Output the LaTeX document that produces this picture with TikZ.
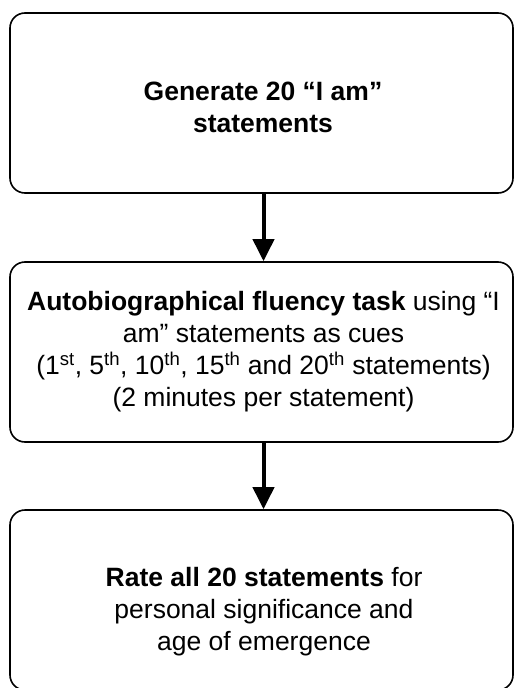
\documentclass[tikz,border=0pt]{standalone}
\usepackage{fontspec}
\setmainfont{Liberation Sans}
\usetikzlibrary{arrows.meta}
\begin{document}
\begin{tikzpicture}[x=1pt,y=-1pt,
  box/.style={draw=black, line width=1.6pt, rounded corners=15pt,
    minimum width=503pt, minimum height=180pt, inner sep=0pt},
  boxtext/.style={align=center, inner sep=0pt,
    font=\fontsize{26.5}{32}\selectfont},
  flow/.style={line width=4pt, -{Triangle[width=21pt,length=22pt]}}]
\useasboundingbox (0,0) rectangle (515,688);
\fill[white] (0,0) rectangle (515,688);
\node[box] (b1) at (261.5,103) {};
\node[box] (b2) at (261.5,352) {};
\node[box] (b3) at (261.5,600) {};
\node[boxtext] (t1) at (263,107) {\textbf{Generate 20 “I am”}\\\textbf{statements}};
\node[boxtext] (t2) at (263.5,352) {\textbf{Autobiographical fluency task} using “I\\am” statements as cues\\(1\textsuperscript{st}, 5\textsuperscript{th}, 10\textsuperscript{th}, 15\textsuperscript{th} and 20\textsuperscript{th} statements)\\(2 minutes per statement)};
\node[boxtext] (t3) at (264,612) {\textbf{Rate all 20 statements} for\\personal significance and\\age of emergence};
\draw[flow] ([xshift=2pt]b1.south) -- ([xshift=2pt]b2.north);
\draw[flow] ([xshift=2pt]b2.south) -- ([xshift=2pt]b3.north);
\end{tikzpicture}
\end{document}
